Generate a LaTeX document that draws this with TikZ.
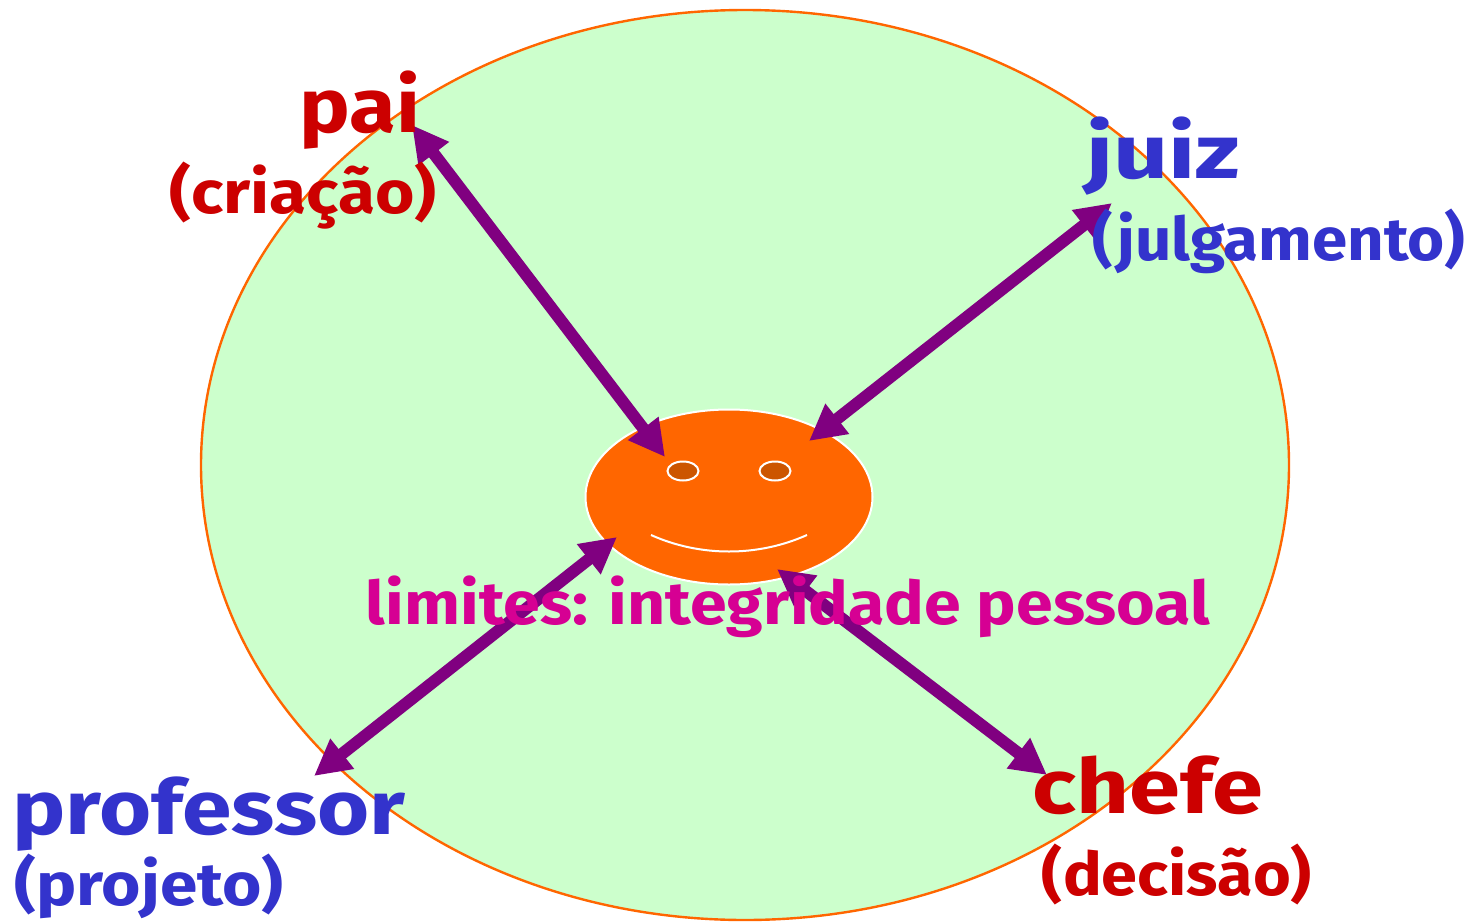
\documentclass[tikz,border=0pt]{standalone}
\usepackage{fontspec}
\setmainfont{Fira Sans}
\usetikzlibrary{arrows.meta,shapes.geometric}
\definecolor{redtxt}{HTML}{CC0000}
\definecolor{bluetxt}{HTML}{3333CC}
\definecolor{magtxt}{HTML}{D60093}
\definecolor{arrowc}{HTML}{800080}
\definecolor{bgc}{HTML}{CCFFCC}
\definecolor{orangec}{HTML}{FF6600}
\definecolor{eyec}{HTML}{CC5500}
\tikzset{
 x=0.5pt,y=-0.5pt,
 big/.style={inner sep=0pt,font=\fontsize{38}{38}\selectfont\bfseries\addfontfeature{FakeStretch=#1},anchor=base},
 small/.style={inner sep=0pt,font=\fontsize{30}{30}\selectfont\bfseries\addfontfeature{FakeStretch=#1},anchor=base},
 link/.style={draw=arrowc,line width=6pt,{Triangle[length=18pt,width=18pt]}-{Triangle[length=18pt,width=18pt]}},
 eyeshape/.style={ellipse,draw=white,line width=1pt,fill=eyec,minimum width=15.5pt,minimum height=9.5pt,inner sep=0pt},
}
\begin{document}
\begin{tikzpicture}
\useasboundingbox (0,0) rectangle (1483,921);
\node[ellipse,draw=orangec,line width=1.2pt,fill=bgc,minimum width=544pt,minimum height=455pt,inner sep=0pt] (world) at (745,465) {};
\node[ellipse,draw=white,line width=1pt,fill=orangec,minimum width=143.5pt,minimum height=87.5pt,inner sep=0pt] (face) at (729,497) {};
\node[eyeshape] (eyeL) at (683,471) {};
\node[eyeshape] (eyeR) at (775,471) {};
\coordinate (smileL) at (651,535);
\coordinate (smileR) at (807,535);
\draw[white,line width=1pt] (smileL) .. controls (700,557) and (758,557) .. (smileR);
\coordinate (endPai) at (412,125);
\coordinate (inPai) at (665,457);
\coordinate (endJuiz) at (1112,203);
\coordinate (inJuiz) at (809,441);
\coordinate (endProf) at (314,776);
\coordinate (inProf) at (617,537);
\coordinate (endChefe) at (1047,775);
\coordinate (inChefe) at (777,569);
\draw[link] (endPai) -- (inPai);
\draw[link] (endJuiz) -- (inJuiz);
\draw[link] (endProf) -- (inProf);
\draw[link] (endChefe) -- (inChefe);
\node[big=1.12,text=redtxt] (pai) at (360,132) {pai};
\node[small=1.126,text=redtxt] (criacao) at (303,213) {(criação)};
\node[big=1.27,text=bluetxt] (juiz) at (1163,178) {juiz};
\node[small=1.06,text=bluetxt] (julg) at (1279,260) {(julgamento)};
\node[big=1.176,text=bluetxt] (prof) at (209,834) {professor};
\node[small=1.125,text=bluetxt] (proj) at (149,905) {(projeto)};
\node[big=1.21,text=redtxt] (chefe) at (1148,813) {chefe};
\node[small=1.08,text=redtxt] (decisao) at (1177,895) {(decisão)};
\node[small=1.105,text=magtxt] (limites) at (788,624) {limites: integridade pessoal};
\end{tikzpicture}
\end{document}
